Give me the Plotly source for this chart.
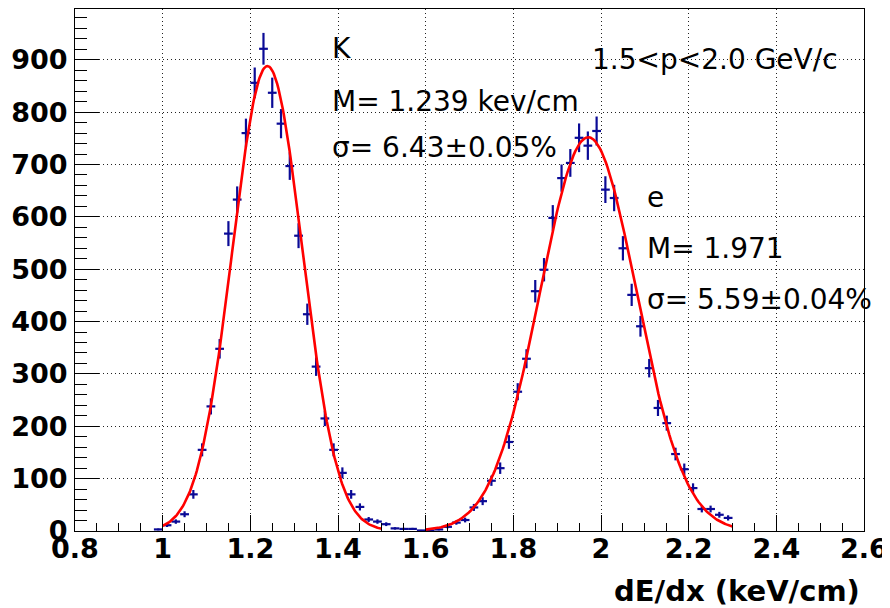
import numpy as np
import plotly.graph_objects as go

# ---- data ----
bin_centers = [0.99, 1.01, 1.03, 1.05, 1.07, 1.09, 1.11, 1.13, 1.15, 1.17,
               1.19, 1.21, 1.23, 1.25, 1.27, 1.29, 1.31, 1.33, 1.35, 1.37,
               1.39, 1.41, 1.43, 1.45, 1.47, 1.49, 1.51, 1.53, 1.55, 1.57,
               1.59, 1.61, 1.63, 1.65, 1.67, 1.69, 1.71, 1.73, 1.75, 1.77,
               1.79, 1.81, 1.83, 1.85, 1.87, 1.89, 1.91, 1.93, 1.95, 1.97,
               1.99, 2.01, 2.03, 2.05, 2.07, 2.09, 2.11, 2.13, 2.15, 2.17,
               2.19, 2.21, 2.23, 2.25, 2.27, 2.29]
counts = [3, 11, 18, 32, 70, 155, 238, 348, 568, 633,
          760, 856, 921, 837, 778, 697, 564, 414, 314, 215,
          155, 111, 70, 46, 22, 18, 13, 5, 4, 4,
          1, 1, 3, 8, 16, 21, 45, 57, 96, 120,
          170, 266, 329, 458, 499, 598, 674, 703, 751, 736,
          764, 652, 636, 540, 451, 391, 311, 235, 206, 147,
          118, 82, 42, 42, 31, 25]
bin_half_width = 0.01

# fit parameters (amplitude, mean, relative sigma, fit range)
k_amp, k_mean, k_rel_sigma, k_range = 888.0, 1.239, 0.0643, (1.0, 1.5)
e_amp, e_mean, e_rel_sigma, e_range = 752.0, 1.971, 0.0559, (1.6, 2.3)

x_ticks = [0.8, 1.0, 1.2, 1.4, 1.6, 1.8, 2.0, 2.2, 2.4, 2.6]
y_ticks = [0, 100, 200, 300, 400, 500, 600, 700, 800, 900]

FONT = "DejaVu Sans"
BLUE = "#0a0a96"


def gauss_curve(amp, mean, rel_sigma, rng):
    xs = np.linspace(rng[0], rng[1], 200)
    s = mean * rel_sigma
    return xs, amp * np.exp(-0.5 * ((xs - mean) / s) ** 2)


fig = go.Figure()

fig.add_trace(go.Scatter(
    x=bin_centers, y=counts, mode="markers",
    marker=dict(size=1, color=BLUE),
    error_y=dict(type="data", array=list(np.sqrt(counts)), visible=True,
                 color=BLUE, thickness=2.2, width=0),
    error_x=dict(type="constant", value=bin_half_width, visible=True,
                 color=BLUE, thickness=2.2, width=0),
    hoverinfo="x+y",
))

for amp, mean, rs, rng in [(k_amp, k_mean, k_rel_sigma, k_range),
                           (e_amp, e_mean, e_rel_sigma, e_range)]:
    xs, ys = gauss_curve(amp, mean, rs, rng)
    fig.add_trace(go.Scatter(x=xs, y=ys, mode="lines",
                             line=dict(color="#ff0000", width=2.6)))

axis_common = dict(
    showline=True, linecolor="black", linewidth=1, mirror=True,
    ticks="inside", tickcolor="black", tickwidth=1,
    showgrid=True, gridcolor="#222222", griddash="1px,3px", gridwidth=1,
    zeroline=False, automargin=False,
    tickfont=dict(family=FONT, size=27, color="black", weight="bold"),
)

fig.update_xaxes(
    range=[0.8, 2.6], tickvals=x_ticks,
    ticktext=[f"{v:g}" for v in x_ticks],
    ticklen=16, ticklabelstandoff=-6,
    minor=dict(dtick=0.05, ticks="inside", ticklen=8, tickcolor="black",
               showgrid=False),
    **axis_common,
)
fig.update_yaxes(
    range=[0, 997], tickvals=y_ticks,
    ticklen=24, ticklabelstandoff=1,
    minor=dict(dtick=20, ticks="inside", ticklen=12, tickcolor="black",
               showgrid=False),
    **axis_common,
)

# page has an 8px body margin; target page coordinates below
OFF = 8
W, H = 890 - OFF, 608 - OFF
L, R, T, B = 75 - OFF, 26, 9 - OFF, 77
pw, ph = W - L - R, H - T - B


def px_to_paper(px, py):
    px, py = px - OFF, py - OFF
    return (px - L) / pw, (H - B - py) / ph


texts = [
    ("K", 330, 49),
    ("M= 1.239 kev/cm", 330, 102),
    ("σ= 6.43±0.05%", 330, 147),
    ("1.5<p<2.0 GeV/c", 590, 59),
    ("e", 645, 198),
    ("M= 1.971", 645, 248),
    ("σ= 5.59±0.04%", 645, 299),
]
for t, px, py in texts:
    xp, yp = px_to_paper(px, py)
    fig.add_annotation(text=t, x=xp, y=yp, xref="paper", yref="paper",
                       xanchor="left", yanchor="middle", showarrow=False,
                       font=dict(family=FONT, size=28, color="black"))

xp, yp = px_to_paper(862, 591)
fig.add_annotation(text="dE/dx (keV/cm)", x=xp, y=yp, xref="paper", yref="paper",
                   xanchor="right", yanchor="middle", showarrow=False,
                   font=dict(family=FONT, size=29, color="black", weight="bold"))

fig.update_layout(
    width=W, height=H,
    margin=dict(l=L, r=R, t=T, b=B),
    paper_bgcolor="white", plot_bgcolor="white",
    showlegend=False,
)

fig.write_html("out.html")
